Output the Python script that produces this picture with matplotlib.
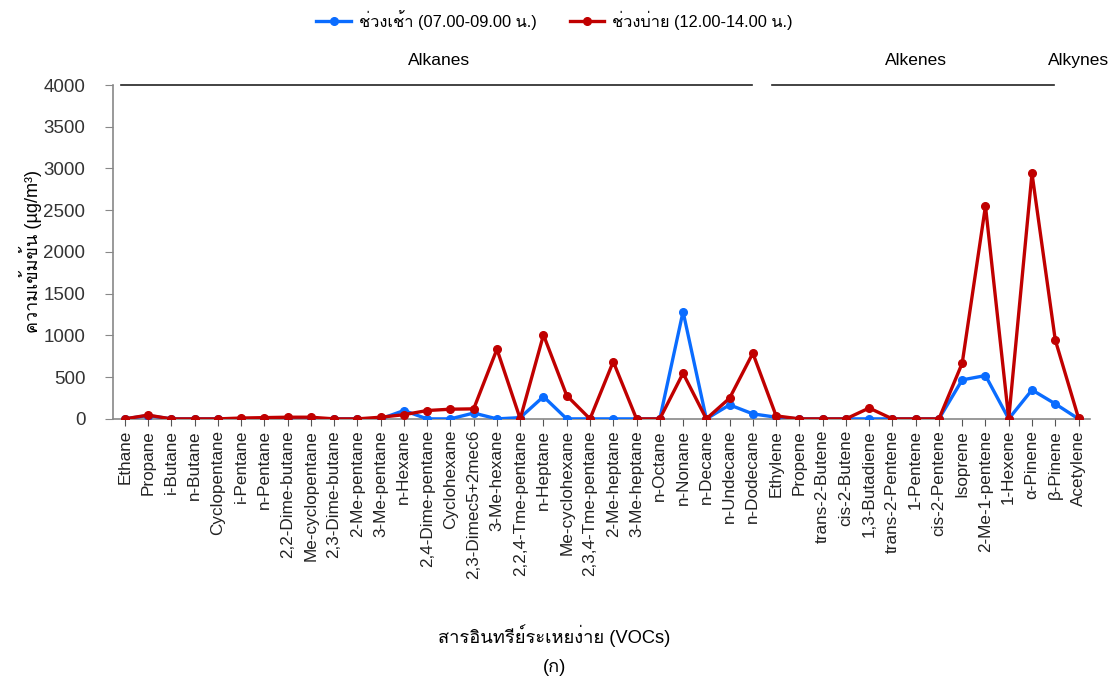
import matplotlib
matplotlib.use("Agg")
import matplotlib.pyplot as plt
from matplotlib import font_manager
from fontTools.ttLib import TTFont

compounds = [
    "Ethane", "Propane", "i-Butane", "n-Butane", "Cyclopentane", "i-Pentane",
    "n-Pentane", "2,2-Dime-butane", "Me-cyclopentane", "2,3-Dime-butane",
    "2-Me-pentane", "3-Me-pentane", "n-Hexane", "2,4-Dime-pentane",
    "Cyclohexane", "2,3-Dimec5+2mec6", "3-Me-hexane", "2,2,4-Tme-pentane",
    "n-Heptane", "Me-cyclohexane", "2,3,4-Tme-pentane", "2-Me-heptane",
    "3-Me-heptane", "n-Octane", "n-Nonane", "n-Decane", "n-Undecane",
    "n-Dodecane", "Ethylene", "Propene", "trans-2-Butene", "cis-2-Butene",
    "1,3-Butadiene", "trans-2-Pentene", "1-Pentene", "cis-2-Pentene",
    "Isoprene", "2-Me-1-pentene", "1-Hexene", "α-Pinene", "β-Pinene",
    "Acetylene",
]

# concentration, µg/m3
morning = [0, 40, 0, 0, 0, 0, 0, 0, 0, 0, 0, 0, 100, 0, 0, 70, 0, 15,
           267, 0, 0, 0, 0, 0, 1285, 0, 168, 60, 20, 0, 0, 0, 0, 0, 0, 0,
           467, 519, 0, 347, 180, 0]
afternoon = [0, 45, 0, 0, 0, 10, 15, 20, 20, 0, 0, 20, 50, 100, 116, 120,
             835, 0, 1006, 279, 0, 686, 0, 0, 547, 0, 248, 787, 36, 0, 0, 0,
             130, 0, 0, 0, 667, 2550, 0, 2941, 946, 10]

series_labels = ["ช่วงเช้า (07.00-09.00 น.)", "ช่วงบ่าย (12.00-14.00 น.)"]

# compound groups: (name, first index, last index)
groups = [("Alkanes", 0, 27), ("Alkenes", 28, 40), ("Alkynes", 41, 41)]


def find_thai_font():
    for f in font_manager.fontManager.ttflist:
        try:
            cmap = TTFont(f.fname, fontNumber=0, lazy=True).getBestCmap()
        except Exception:
            continue
        if cmap and 0x0E01 in cmap and 0x0E48 in cmap:
            return f.name
    return None


thai = find_thai_font()
families = ["Liberation Sans"] + ([thai] if thai else []) + ["DejaVu Sans"]
plt.rcParams["font.family"] = families

fig = plt.figure(figsize=(11.09, 6.8), dpi=100)
ax = fig.add_axes([0.102, 0.384, 0.881, 0.491])

x = list(range(len(compounds)))
ax.plot(x, morning, color="#0a6cff", lw=2.4, marker="o", ms=5.5,
        label=series_labels[0], zorder=3)
ax.plot(x, afternoon, color="#c00000", lw=2.4, marker="o", ms=5.5,
        label=series_labels[1], zorder=4)

ax.set_xlim(-0.5, len(compounds) - 0.5)
ax.set_ylim(0, 4000)
ax.set_yticks(range(0, 4001, 500))
ax.set_xticks(x)
ax.set_xticklabels(compounds, rotation=90, fontsize=12.3)
ax.tick_params(axis="y", labelsize=13.5, labelcolor="#333333", length=6,
               color="#888888", pad=14)
ax.tick_params(axis="x", labelcolor="#222222", length=5, color="#555555",
               pad=3)
for side in ("top", "right"):
    ax.spines[side].set_visible(False)
for side in ("left", "bottom"):
    ax.spines[side].set_color("#888888")
    ax.spines[side].set_linewidth(1.2)

ax.set_ylabel("ความเข้มข้น (µg/m³)", fontsize=13, labelpad=1)

# group brackets along the top
trans = ax.get_xaxis_transform()
for name, i0, i1 in groups:
    if i1 > i0:
        ax.plot([i0 - 0.17, i1 - 0.05], [1.0, 1.0], color="#222222", lw=1.2,
                transform=trans, clip_on=False)
    ax.text((i0 + i1) / 2, 1.05, name, transform=trans, ha="center",
            va="bottom", fontsize=12.5)

fig.legend(loc="upper center", bbox_to_anchor=(0.5, 1.007), ncol=2,
           frameon=False, fontsize=11.8, handlelength=2.1,
           handletextpad=0.5, columnspacing=2.0)

fig.text(0.5, 0.066, "สารอินทรีย์ระเหยง่าย (VOCs)", ha="center", va="center",
         fontsize=13.2)
fig.text(0.5, 0.018, "(ก)", ha="center", va="center", fontsize=13.2)

fig.savefig("out.png", dpi=100)
